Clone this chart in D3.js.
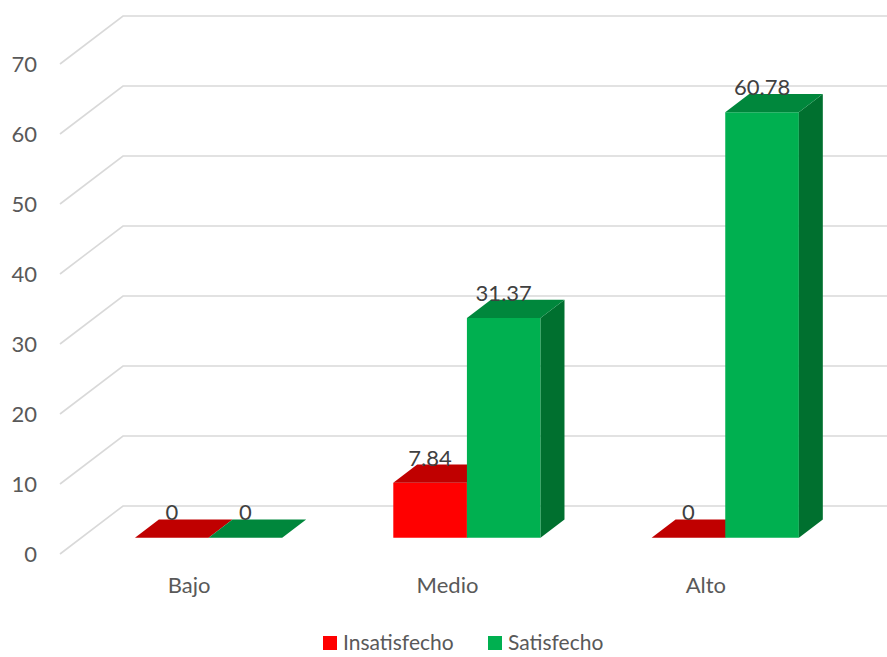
<!DOCTYPE html>
<html>
<head>
<meta charset="utf-8">
<script src="https://cdn.jsdelivr.net/npm/d3@7/dist/d3.min.js"></script>
<style>
  html, body { margin: 0; padding: 0; background: #fff; }
  svg { display: block; font-family: Lato, "Open Sans", sans-serif; }
</style>
</head>
<body>
<svg id="chart" width="887" height="657"></svg>
<script>
// Data
const categories = ["Bajo", "Medio", "Alto"];
const seriesNames = ["Insatisfecho", "Satisfecho"];
const insatisfecho = [0, 7.84, 0];
const satisfecho = [0, 31.37, 60.78];
const yTicks = [0, 10, 20, 30, 40, 50, 60, 70];

const seriesValues = [insatisfecho, satisfecho];
const colors = {
  Insatisfecho: { front: "#ff0000", top: "#c00000", side: "#a00000" },
  Satisfecho:   { front: "#00b050", top: "#00873c", side: "#00702f" }
};

const svg = d3.select("#chart");
const fontSize = 22;

// 3D projection: depth z in [0,1] shifts points right and up
const depthX = 63, depthY = 48;
const y = d3.scaleLinear().domain([0, 70]).range([554, 64]);
const x0 = d3.scaleBand().domain(categories).range([58, 833]);
const groupW = x0.bandwidth() * 0.57;
const x1 = d3.scaleBand().domain(seriesNames).range([0, groupW]);
const proj = (px, v, z) => [px + z * depthX, y(v) - z * depthY];

// Gridlines: diagonal on the side wall, horizontal on the back wall
const grid = svg.append("g");
yTicks.forEach(t => {
  const a = proj(60, t, 0), b = proj(60, t, 1);
  grid.append("path")
    .attr("d", `M${a[0]},${a[1]}L${b[0]},${b[1]}L887,${b[1]}`)
    .attr("fill", "none").attr("stroke", "#d9d9d9").attr("stroke-width", 1.6);
});

// Y axis labels
svg.append("g").selectAll("text").data(yTicks).join("text")
  .attr("x", 37).attr("y", d => y(d) + 2)
  .attr("text-anchor", "end").attr("dominant-baseline", "middle")
  .attr("font-size", fontSize).attr("fill", "#595959")
  .text(d => d);

// Bars
const zFront = 0.34, zBack = 0.72;
const bars = svg.append("g");
const labels = svg.append("g");
categories.forEach((cat, ci) => {
  seriesNames.forEach((s, si) => {
    const v = seriesValues[si][ci];
    const xl = x0(cat) + (x0.bandwidth() - groupW) / 2 + x1(s);
    const xr = xl + x1.bandwidth();
    const c = colors[s];
    const fbl = proj(xl, 0, zFront), fbr = proj(xr, 0, zFront);
    const ftl = proj(xl, v, zFront), ftr = proj(xr, v, zFront);
    const btl = proj(xl, v, zBack), btr = proj(xr, v, zBack);
    const bbr = proj(xr, 0, zBack);
    const poly = pts => "M" + pts.map(p => p.join(",")).join("L") + "Z";
    // front face
    bars.append("path").attr("d", poly([fbl, fbr, ftr, ftl])).attr("fill", c.front);
    // right side face
    bars.append("path").attr("d", poly([fbr, bbr, btr, ftr])).attr("fill", c.side);
    // top face
    bars.append("path").attr("d", poly([ftl, ftr, btr, btl])).attr("fill", c.top);
    // value label
    labels.append("text")
      .attr("x", (ftl[0] + ftr[0]) / 2)
      .attr("y", btl[1] + 1)
      .attr("text-anchor", "middle")
      .attr("font-size", fontSize).attr("fill", "#404040")
      .text(v);
  });
});

// Category labels
svg.append("g").selectAll("text").data(categories).join("text")
  .attr("x", d => x0(d) + x0.bandwidth() / 2 + 2)
  .attr("y", 593)
  .attr("text-anchor", "middle")
  .attr("font-size", fontSize).attr("fill", "#595959")
  .text(d => d);

// Legend
const legend = svg.append("g");
const legendX = [323, 488];
seriesNames.forEach((s, i) => {
  legend.append("rect").attr("x", legendX[i]).attr("y", 636)
    .attr("width", 14).attr("height", 14).attr("fill", colors[s].front);
  legend.append("text").attr("x", legendX[i] + 20).attr("y", 650)
    .attr("font-size", 21).attr("fill", "#595959").text(s);
});
</script>
</body>
</html>
